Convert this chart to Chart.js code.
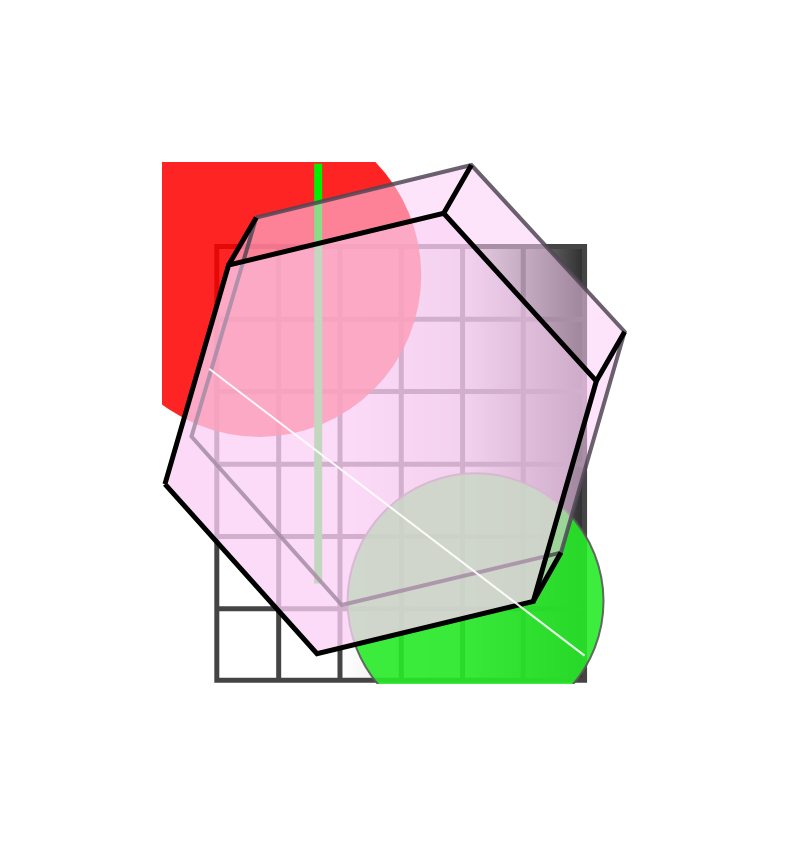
<!DOCTYPE html>
<html><head><meta charset="utf-8">
<script src="https://cdn.jsdelivr.net/npm/chart.js@4.4.0/dist/chart.umd.min.js"></script>
<style>html,body{margin:0;padding:0;background:#fff}canvas{display:block}</style>
</head><body>
<canvas id="c" width="789" height="846"></canvas>
<script>
const gridCols = [93, 198, 302, 406, 510, 613, 717];
const gridRows = [137, 255, 372, 490, 607, 724, 840];
const frontHex = [[113,167],[478,83],[737,355],[630,712],[263,797],[5,522]];
const backHex = [[160,90],[525,5],[785,275],[677,633],[305,718],[50,445]];
const prismHull = [[5,522],[113,167],[160,90],[525,5],[785,275],[677,633],[630,712],[263,797]];
const redCircle = {x:165, y:183, r:162};
const greenCircle = {x:532, y:712, r:128};
const greenLine = [[265,3],[265,683]];
const whiteLine = [[80,335],[717,800]];

const P = a => a.map(([x,y]) => ({x,y}));
const closed = a => P(a.concat([a[0]]));
const base = {showLine:true, pointRadius:0, borderJoinStyle:'miter', tension:0};
let order = 100;
const ds = [];
function add(o){ ds.push(Object.assign({}, base, o, {order: order--})); }

const x0=gridCols[0], x1=gridCols[gridCols.length-1], y0=gridRows[0], y1=gridRows[gridRows.length-1];
add({data: closed([[x0,y0],[x1,y0],[x1,y1],[x0,y1]]), fill:'shape', borderWidth:0, backgroundColor:'#eee'});
const gl=[];
gridCols.forEach(x=>{gl.push({x,y:y0},{x,y:y1},{x:NaN,y:NaN});});
gridRows.forEach(y=>{gl.push({x:x0,y},{x:x1,y},{x:NaN,y:NaN});});
add({data:gl, borderColor:'#444', borderWidth:5, spanGaps:false, borderCapStyle:'square'});
add({data:[{x:greenCircle.x,y:greenCircle.y}], showLine:false, pointRadius:greenCircle.r,
  backgroundColor:'rgba(40,235,40,0.9)', borderColor:'rgba(90,90,90,0.9)', pointBorderWidth:2, borderWidth:2});
add({data:[{x:redCircle.x,y:redCircle.y}], showLine:false, pointRadius:redCircle.r,
  backgroundColor:'rgba(255,0,0,0.86)', borderWidth:0, pointBorderWidth:0});
add({data:P(greenLine), borderColor:'#00ee00', borderWidth:8});
add({data:closed(prismHull), fill:'shape', backgroundColor:'rgba(251,205,246,0.55)', borderWidth:0});
add({data:closed(backHex), borderColor:'rgba(80,70,85,0.85)', borderWidth:4});
add({data:closed(frontHex), fill:'shape', backgroundColor:'rgba(251,210,246,0.5)', borderWidth:0});
const conn=[];
[0,1,2,3].forEach(i=>{conn.push({x:frontHex[i][0],y:frontHex[i][1]},{x:backHex[i][0],y:backHex[i][1]},{x:NaN,y:NaN});});
add({data:conn, borderColor:'#000', borderWidth:5, spanGaps:false});
add({data:P([frontHex[5],frontHex[0],frontHex[1],frontHex[2],frontHex[3],frontHex[4],frontHex[5]]), borderColor:'#000', borderWidth:5});
add({data:P(whiteLine), borderColor:'rgba(255,255,255,0.9)', borderWidth:2});

const gradPlugin = {
  id:'grad',
  afterLayout(ch){
    const sx=ch.scales.x;
    const a=sx.getPixelForValue(300), b=sx.getPixelForValue(717);
    if(!isFinite(a)||!isFinite(b)) return;
    const g=ch.ctx.createLinearGradient(a,0,b,0);
    g.addColorStop(0,'#ffffff'); g.addColorStop(0.5,'#d8d8d8'); g.addColorStop(1,'#2e2e2e');
    ch.data.datasets[0].backgroundColor=g;
  }
};

new Chart(document.getElementById('c'), {
  type:'scatter',
  data:{datasets:ds},
  plugins:[gradPlugin],
  options:{
    responsive:false, animation:false, devicePixelRatio:1,
    events:[], layout:{padding:0},
    plugins:{legend:{display:false}, tooltip:{enabled:false}},
    scales:{
      x:{type:'linear', min:0, max:789, display:false},
      y:{type:'linear', min:0, max:846, reverse:true, display:false}
    }
  }
});
</script>
</body></html>
